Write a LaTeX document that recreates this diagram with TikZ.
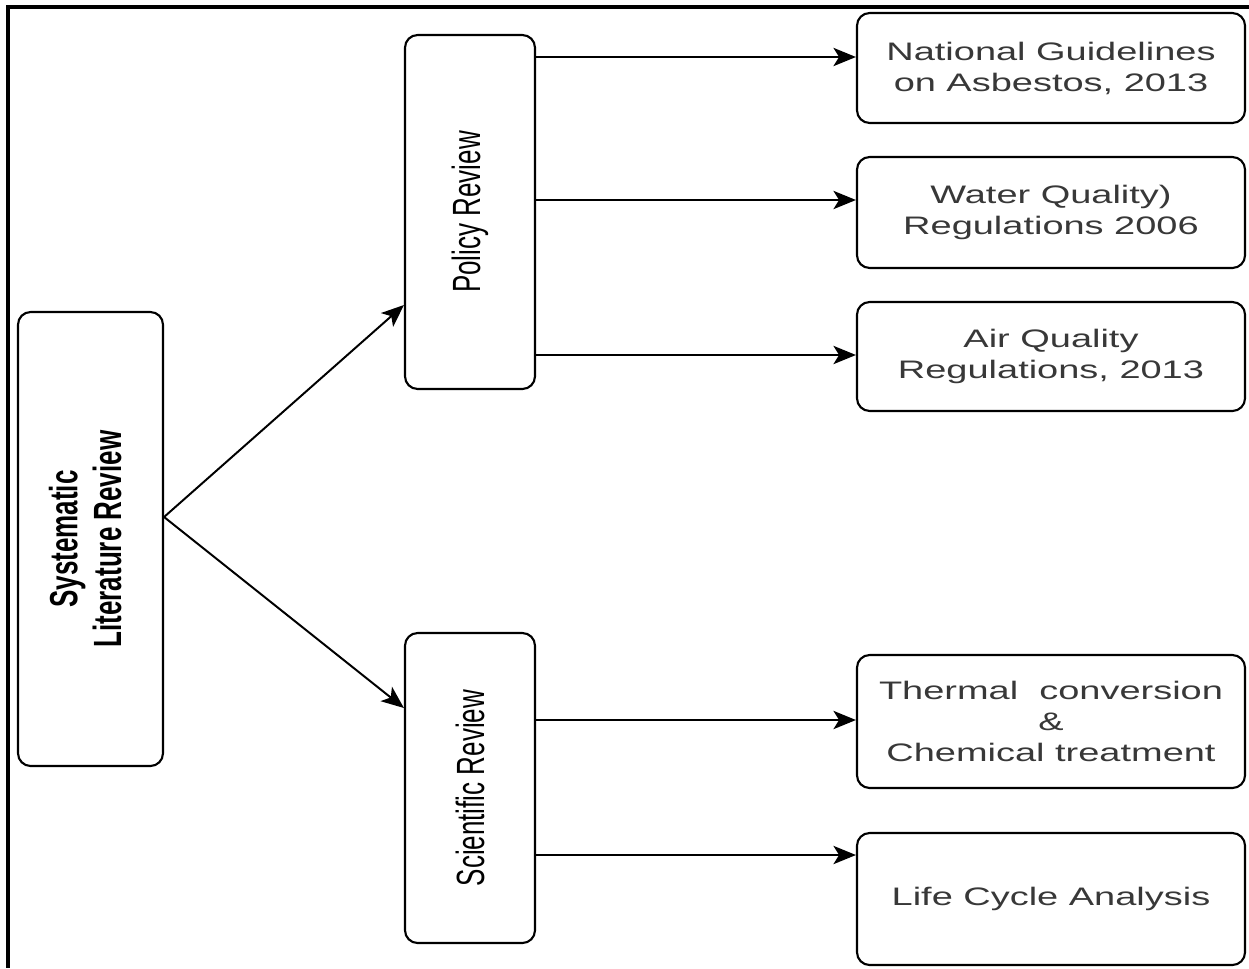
\documentclass[tikz,border=0pt]{standalone}
\usepackage{fontspec}
\setmainfont{Liberation Sans}
\newfontfamily\wideface[FakeStretch=1.5]{Liberation Sans}
\newfontfamily\narrowface[FakeStretch=0.66]{Liberation Sans}
\usetikzlibrary{arrows.meta,calc}

\tikzset{
	box/.style={draw, line width=1.5pt, rounded corners=9pt, inner sep=0pt, align=center},
	leaf/.style={box, minimum width=388*0.025cm, text=black!78, font=\wideface\fontsize{18}{22}\selectfont},
	branch/.style={box, minimum width=130*0.025cm, font=\narrowface\fontsize{28}{30}\selectfont},
	arr/.style={line width=1.4pt, -{Stealth[length=16pt,width=13pt,inset=4pt]}},
}

\begin{document}
\begin{tikzpicture}[x=0.025cm, y=-0.025cm]

		\useasboundingbox (0,0) rectangle (1249,968);
		\draw[line width=2.2pt] (1249,7) -- (8,7) -- (8,968);

		% root
		\node[box, minimum width=145*0.025cm, minimum height=454*0.025cm,
			font=\narrowface\bfseries\fontsize{28}{31}\selectfont] (slr) at (90.5,539)
			{\rotatebox{90}{\begin{tabular}{@{}c@{}}Systematic\\Literature Review\end{tabular}}};

		% two kinds of review
		\node[branch, minimum height=354*0.025cm] (pol) at (470,212) {\rotatebox{90}{Policy Review}};
		\node[branch, minimum height=310*0.025cm] (sci) at (470,788) {\rotatebox{90}{Scientific Review}};

		% sources
		\node[leaf, minimum height=110*0.025cm] (ng) at (1051,68) {National Guidelines\\on Asbestos, 2013};
		\node[leaf, minimum height=111*0.025cm] (wq) at (1051,212.5) {Water Quality)\\Regulations 2006};
		\node[leaf, minimum height=109*0.025cm] (aq) at (1051,356.5) {Air Quality\\Regulations, 2013};
		\node[leaf, minimum height=133*0.025cm] (tc) at (1051,721.5) {Thermal\ \ conversion\\\&\\Chemical treatment};
		\node[leaf, minimum height=132*0.025cm] (lca) at (1051,899) {Life Cycle Analysis};

		\draw[arr] ($(slr.east)+(0,-22)$) -- ($(pol.west)+(0,93)$);
		\draw[arr] ($(slr.east)+(0,-22)$) -- ($(sci.west)+(0,-80)$);

		\foreach \dst/\yy in {ng/57, wq/200, aq/355}{
			\draw[arr] (pol.east |- 0,\yy) -- (\dst.west |- 0,\yy);
		}
		\foreach \dst/\yy in {tc/720, lca/855}{
			\draw[arr] (sci.east |- 0,\yy) -- (\dst.west |- 0,\yy);
		}

	\end{tikzpicture}
\end{document}
